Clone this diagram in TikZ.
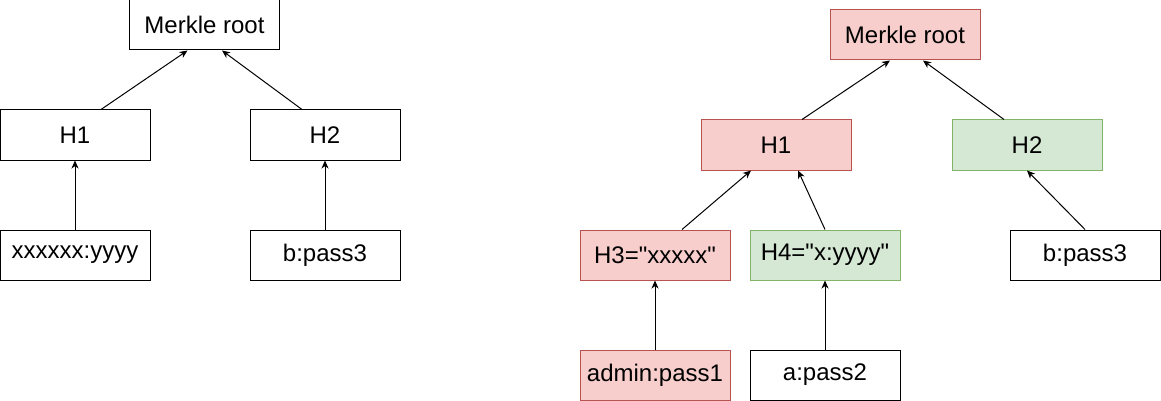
\documentclass[tikz,border=0pt]{standalone}
\usepackage{fontspec}
\setmainfont{Liberation Sans}[Ligatures=TeXOff]
\usepackage{xcolor}
\usetikzlibrary{arrows.meta}
\definecolor{redfill}{HTML}{F8CECC}
\definecolor{redline}{HTML}{B85450}
\definecolor{greenfill}{HTML}{D5E8D4}
\definecolor{greenline}{HTML}{82B366}
\begin{document}
\begin{tikzpicture}[x=0.5pt, y=-0.5pt,
	hashbox/.style={draw, line width=0.5pt, minimum width=75pt, minimum height=25pt, inner sep=0pt, font=\fontsize{12}{14}\selectfont},
	bad/.style={hashbox, fill=redfill, draw=redline},
	good/.style={hashbox, fill=greenfill, draw=greenline},
	link/.style={-{Stealth[length=4pt,width=3.5pt,inset=1.2pt]}, line width=0.5pt}]
					\useasboundingbox (0,0) rectangle (1161,401);
					%original tree
					\node[hashbox] (rootL) at (204.5,25) {Merkle root};
					\node[hashbox] (h1L) at (75,135) {H1};
					\node[hashbox] (h2L) at (325,135) {H2};
					\node[hashbox] (leafL1) at (75,255) {xxxxxx:yyyy};
					\node[hashbox] (leafL2) at (325,255) {b:pass3};
					%original edges
					\draw[link] ([xshift=13pt]h1L.north) -- ([xshift=-8.5pt]rootL.south);
					\draw[link] ([xshift=-11.5pt]h2L.north) -- ([xshift=8.75pt]rootL.south);
					\draw[link] (leafL1.north) -- (h1L.south);
					\draw[link] (leafL2.north) -- (h2L.south);
					%forged tree
					\node[bad] (rootR) at (905,35) {Merkle root};
					\node[bad] (h1R) at (776,145) {H1};
					\node[good] (h2R) at (1027,145) {H2};
					\node[bad] (h3R) at (655,255) {H3="xxxxx"};
					\node[good] (h4R) at (825,255) {H4="x:yyyy"};
					\node[hashbox] (leafR3) at (1085,255) {b:pass3};
					\node[bad] (leafR1) at (655,375) {admin:pass1};
					\node[hashbox] (leafR2) at (825,375) {a:pass2};
					%forged edges
					\draw[link] ([xshift=13pt]h1R.north) -- ([xshift=-7.5pt]rootR.south);
					\draw[link] ([xshift=-11.5pt]h2R.north) -- ([xshift=9pt]rootR.south);
					\draw[link] ([xshift=13.5pt]h3R.north) -- ([xshift=-12.5pt]h1R.south);
					\draw[link] (h4R.north) -- ([xshift=11pt]h1R.south);
					\draw[link] (leafR3.north) -- (h2R.south);
					\draw[link] (leafR1.north) -- (h3R.south);
					\draw[link] (leafR2.north) -- (h4R.south);
				\end{tikzpicture}
\end{document}
